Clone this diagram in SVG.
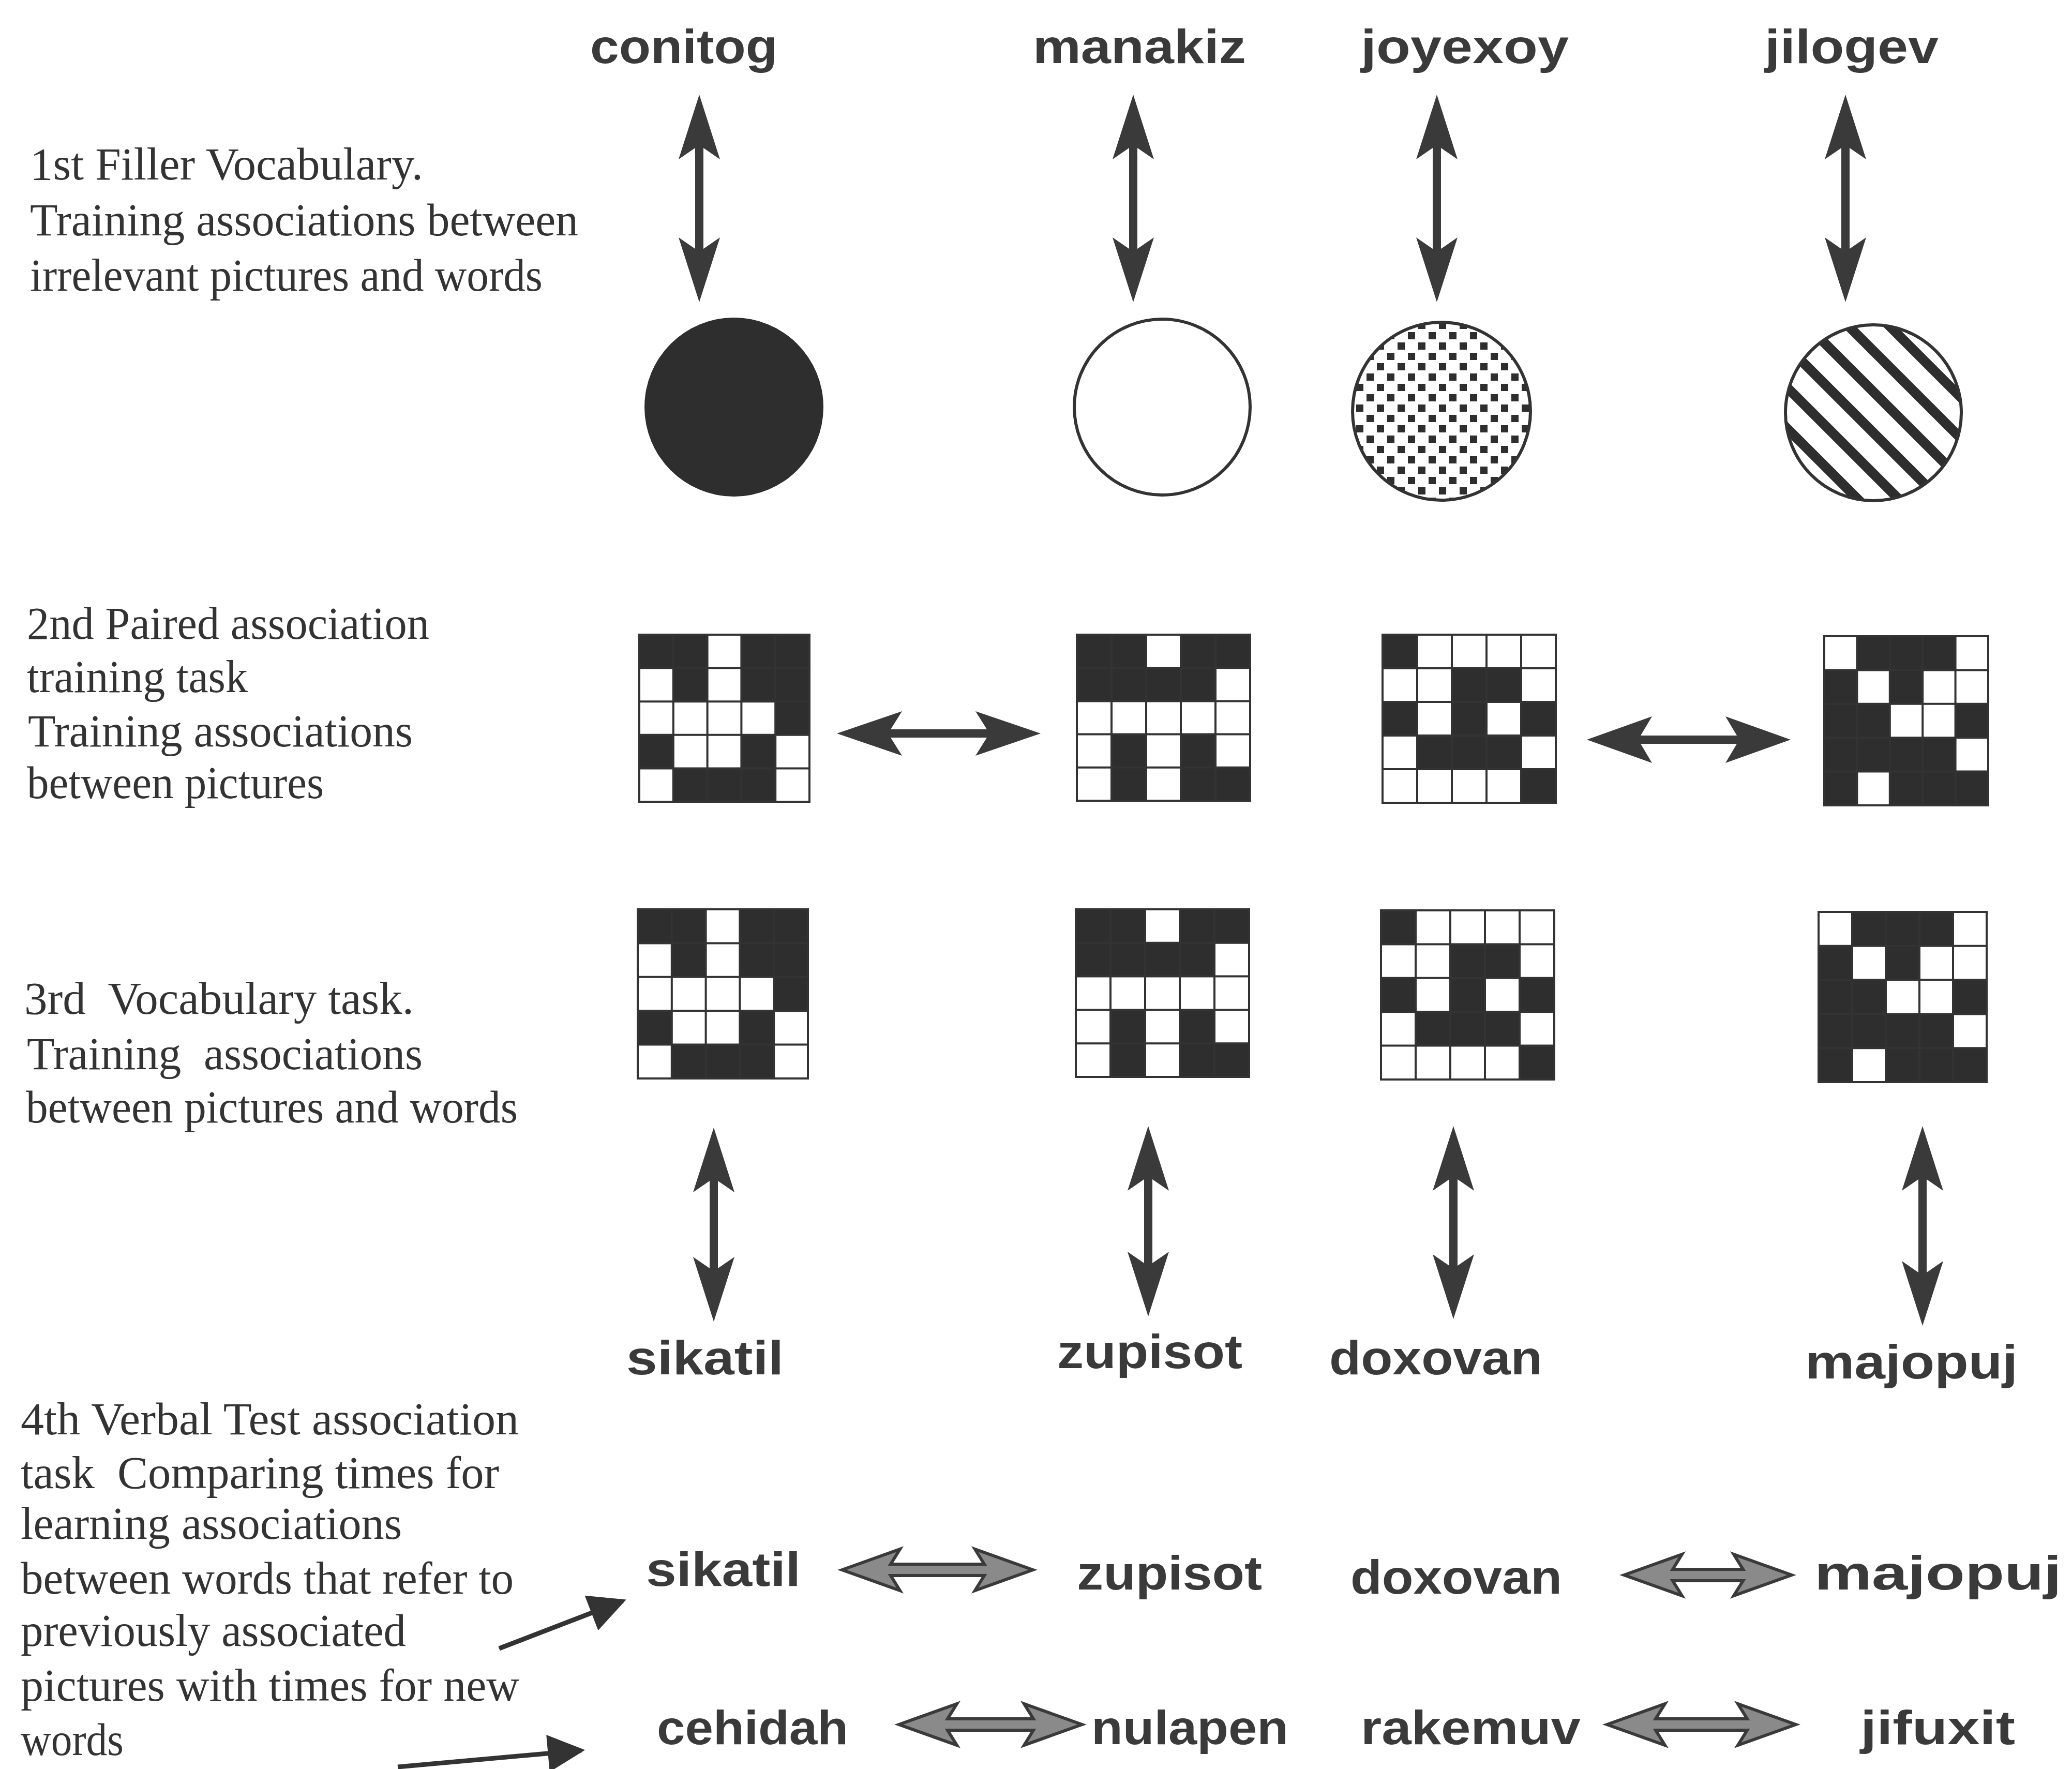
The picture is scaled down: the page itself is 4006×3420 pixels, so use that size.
<svg xmlns="http://www.w3.org/2000/svg" xmlns:xlink="http://www.w3.org/1999/xlink" width="4006" height="3420" viewBox="0 0 4006 3420">
<style>
.lbl{font-family:"Liberation Serif","Times New Roman",serif;font-size:88px;fill:#333}
.word{font-family:"Liberation Sans",Arial,sans-serif;font-weight:bold;font-size:92px;fill:#3a3a3a}
.arr{fill:#3a3a3a;stroke:none}
.arr2{fill:#8a8a8a;stroke:#3a3a3a;stroke-width:6;stroke-linejoin:miter}
.cell{fill:#2e2e2e}
.gl{stroke:#333;stroke-width:4;fill:none;vector-effect:non-scaling-stroke}
.ptr{stroke:#333;stroke-width:9;fill:none}
</style>
<defs>
<marker id="tri" viewBox="0 0 10 10" refX="9" refY="5" markerWidth="10" markerHeight="8" markerUnits="strokeWidth" orient="auto">
<path d="M0,0 L10,5 L0,10 Z" fill="#333"/>
</marker>
<pattern id="dots" width="40" height="40" patternUnits="userSpaceOnUse">
<rect x="2" y="2" width="14" height="14" fill="#2e2e2e"/>
<rect x="22" y="22" width="14" height="14" fill="#2e2e2e"/>
</pattern>
<pattern id="stripes" width="56" height="56" patternUnits="userSpaceOnUse" patternTransform="rotate(-45)">
<rect x="0" y="0" width="19" height="56" fill="#2e2e2e"/>
</pattern>
<g id="gridlines">
<rect x="0" y="0" width="5" height="5" class="gl"/>
<path class="gl" d="M1,0V5M2,0V5M3,0V5M4,0V5M0,1H5M0,2H5M0,3H5M0,4H5"/>
</g>
<g id="patA">
<path class="cell" d="M0,0h2v1h-2z M3,0h2v2h-2z M1,1h1v1h-1z M4,2h1v1h-1z M0,3h1v1h-1z M3,3h1v1h-1z M1,4h3v1h-3z"/>
<use xlink:href="#gridlines"/>
</g>
<g id="patB">
<path class="cell" d="M0,0h2v2h-2z M3,0h2v1h-2z M2,1h2v1h-2z M1,3h1v2h-1z M3,3h1v2h-1z M4,4h1v1h-1z"/>
<use xlink:href="#gridlines"/>
</g>
<g id="patC">
<path class="cell" d="M0,0h1v1h-1z M2,1h2v1h-2z M0,2h1v1h-1z M2,2h1v1h-1z M4,2h1v1h-1z M1,3h3v1h-3z M4,4h1v1h-1z"/>
<use xlink:href="#gridlines"/>
</g>
<g id="patD">
<path class="cell" d="M1,0h3v1h-3z M0,1h1v4h-1z M2,1h1v1h-1z M1,2h1v2h-1z M4,2h1v1h-1z M2,3h2v1h-2z M2,4h3v1h-3z"/>
<use xlink:href="#gridlines"/>
</g>
</defs>
<rect width="4006" height="3420" fill="#ffffff"/>

<g id="labels">
<g id="label-1">
<text class="lbl" x="58" y="347" textLength="760" lengthAdjust="spacingAndGlyphs">1st Filler Vocabulary.</text>
<text class="lbl" x="58" y="455" textLength="1060" lengthAdjust="spacingAndGlyphs">Training associations between</text>
<text class="lbl" x="58" y="562" textLength="991" lengthAdjust="spacingAndGlyphs">irrelevant pictures and words</text>
</g>
<g id="label-2">
<text class="lbl" x="52" y="1235" textLength="778" lengthAdjust="spacingAndGlyphs">2nd Paired association</text>
<text class="lbl" x="52" y="1338" textLength="427" lengthAdjust="spacingAndGlyphs">training task</text>
<text class="lbl" x="54" y="1443" textLength="744" lengthAdjust="spacingAndGlyphs">Training associations</text>
<text class="lbl" x="52" y="1543" textLength="574" lengthAdjust="spacingAndGlyphs">between pictures</text>
</g>
<g id="label-3">
<text class="lbl" x="47" y="1960" textLength="753" lengthAdjust="spacingAndGlyphs" xml:space="preserve">3rd  Vocabulary task.</text>
<text class="lbl" x="52" y="2067" textLength="765" lengthAdjust="spacingAndGlyphs" xml:space="preserve">Training  associations</text>
<text class="lbl" x="50" y="2170" textLength="951" lengthAdjust="spacingAndGlyphs">between pictures and words</text>
</g>
<g id="label-4">
<text class="lbl" x="40" y="2773" textLength="963" lengthAdjust="spacingAndGlyphs">4th Verbal Test association</text>
<text class="lbl" x="40" y="2877" textLength="925" lengthAdjust="spacingAndGlyphs" xml:space="preserve">task  Comparing times for</text>
<text class="lbl" x="40" y="2975" textLength="737" lengthAdjust="spacingAndGlyphs">learning associations</text>
<text class="lbl" x="40" y="3081" textLength="953" lengthAdjust="spacingAndGlyphs">between words that refer to</text>
<text class="lbl" x="40" y="3182" textLength="745" lengthAdjust="spacingAndGlyphs">previously associated</text>
<text class="lbl" x="40" y="3288" textLength="964" lengthAdjust="spacingAndGlyphs">pictures with times for new</text>
<text class="lbl" x="40" y="3393" textLength="199" lengthAdjust="spacingAndGlyphs">words</text>
</g>
</g>

<g id="words-top">
<text id="w-conitog" class="word" x="1141" y="122" textLength="362" lengthAdjust="spacingAndGlyphs">conitog</text>
<text id="w-manakiz" class="word" x="1997" y="122" textLength="412" lengthAdjust="spacingAndGlyphs">manakiz</text>
<text id="w-joyexoy" class="word" x="2631" y="122" textLength="402" lengthAdjust="spacingAndGlyphs">joyexoy</text>
<text id="w-jilogev" class="word" x="3412" y="122" textLength="336" lengthAdjust="spacingAndGlyphs">jilogev</text>
</g>

<g id="circles">
<g id="c-black"><circle cx="1419" cy="787" r="173" fill="#2e2e2e"/></g>
<g id="c-white"><circle cx="2247" cy="787" r="170" fill="#fff" stroke="#333" stroke-width="6"/></g>
<g id="c-dots"><circle cx="2787" cy="795" r="172" fill="url(#dots)" stroke="#333" stroke-width="6"/></g>
<g id="c-stripes"><circle cx="3622" cy="798" r="170" fill="url(#stripes)" stroke="#333" stroke-width="6"/></g>
</g>

<g id="grids-row2">
<g id="g2-sikatil"><use xlink:href="#patA" transform="translate(1236,1227) scale(65.8,64.6)"/></g>
<g id="g2-zupisot"><use xlink:href="#patB" transform="translate(2082,1227) scale(67,64.2)"/></g>
<g id="g2-doxovan"><use xlink:href="#patC" transform="translate(2673,1227) scale(67,65)"/></g>
<g id="g2-majopuj"><use xlink:href="#patD" transform="translate(3527,1230) scale(63.4,65.4)"/></g>
</g>

<g id="grids-row3">
<g id="g3-sikatil"><use xlink:href="#patA" transform="translate(1233,1758) scale(65.8,65.4)"/></g>
<g id="g3-zupisot"><use xlink:href="#patB" transform="translate(2080,1758) scale(67,64.8)"/></g>
<g id="g3-doxovan"><use xlink:href="#patC" transform="translate(2670,1760) scale(67,65.4)"/></g>
<g id="g3-majopuj"><use xlink:href="#patD" transform="translate(3516,1763) scale(65,65.8)"/></g>
</g>

<g id="words-row3">
<text id="w3-sikatil" class="word" x="1211" y="2657" textLength="304" lengthAdjust="spacingAndGlyphs">sikatil</text>
<text id="w3-zupisot" class="word" x="2044" y="2645" textLength="358" lengthAdjust="spacingAndGlyphs">zupisot</text>
<text id="w3-doxovan" class="word" x="2570" y="2657" textLength="412" lengthAdjust="spacingAndGlyphs">doxovan</text>
<text id="w3-majopuj" class="word" x="3490" y="2665" textLength="411" lengthAdjust="spacingAndGlyphs">majopuj</text>
</g>

<g id="words-row4">
<text id="w4-sikatil" class="word" x="1249" y="3066" textLength="299" lengthAdjust="spacingAndGlyphs">sikatil</text>
<text id="w4-zupisot" class="word" x="2082" y="3073" textLength="358" lengthAdjust="spacingAndGlyphs">zupisot</text>
<text id="w4-doxovan" class="word" x="2611" y="3081" textLength="409" lengthAdjust="spacingAndGlyphs">doxovan</text>
<text id="w4-majopuj" class="word" x="3508" y="3073" textLength="478" lengthAdjust="spacingAndGlyphs">majopuj</text>
<text id="w4-cehidah" class="word" x="1270" y="3372" textLength="370" lengthAdjust="spacingAndGlyphs">cehidah</text>
<text id="w4-nulapen" class="word" x="2110" y="3372" textLength="381" lengthAdjust="spacingAndGlyphs">nulapen</text>
<text id="w4-rakemuv" class="word" x="2631" y="3372" textLength="425" lengthAdjust="spacingAndGlyphs">rakemuv</text>
<text id="w4-jifuxit" class="word" x="3597" y="3372" textLength="299" lengthAdjust="spacingAndGlyphs">jifuxit</text>
</g>

<g id="connectors">
<path class="arr" d="M1352,183 L1392,308 L1360,286 L1360,481 L1392,459 L1352,584 L1312,459 L1344,481 L1344,286 L1312,308 Z"/>
<path class="arr" d="M2191,183 L2231,308 L2199,286 L2199,481 L2231,459 L2191,584 L2151,459 L2183,481 L2183,286 L2151,308 Z"/>
<path class="arr" d="M2778,183 L2818,308 L2786,286 L2786,481 L2818,459 L2778,584 L2738,459 L2770,481 L2770,286 L2738,308 Z"/>
<path class="arr" d="M3568,183 L3608,308 L3576,286 L3576,481 L3608,459 L3568,584 L3528,459 L3560,481 L3560,286 L3528,308 Z"/>
<path class="arr" d="M1618,1418 L1744,1375 L1722,1410 L1908,1410 L1886,1375 L2012,1418 L1886,1461 L1908,1426 L1722,1426 L1744,1461 Z"/>
<path class="arr" d="M3068,1430 L3194,1385 L3172,1422 L3358,1422 L3336,1385 L3462,1430 L3336,1475 L3358,1438 L3172,1438 L3194,1475 Z"/>
<path class="arr" d="M1380,2180 L1420,2305 L1388,2283 L1388,2452 L1420,2430 L1380,2555 L1340,2430 L1372,2452 L1372,2283 L1340,2305 Z"/>
<path class="arr" d="M2220,2177 L2260,2302 L2228,2280 L2228,2442 L2260,2420 L2220,2545 L2180,2420 L2212,2442 L2212,2280 L2180,2302 Z"/>
<path class="arr" d="M2810,2177 L2850,2302 L2818,2280 L2818,2447 L2850,2425 L2810,2550 L2770,2425 L2802,2447 L2802,2280 L2770,2302 Z"/>
<path class="arr" d="M3717,2177 L3757,2302 L3725,2280 L3725,2460 L3757,2438 L3717,2563 L3677,2438 L3709,2460 L3709,2280 L3677,2302 Z"/>
<path class="arr2" d="M1628,3035 L1740,2995 L1722,3024 L1903,3024 L1885,2995 L1997,3035 L1885,3075 L1903,3046 L1722,3046 L1740,3075 Z"/>
<path class="arr2" d="M3140,3045 L3252,3005 L3234,3034 L3370,3034 L3352,3005 L3464,3045 L3352,3085 L3370,3056 L3234,3056 L3252,3085 Z"/>
<path class="arr2" d="M1738,3334 L1850,3294 L1832,3323 L1998,3323 L1980,3294 L2092,3334 L1980,3374 L1998,3345 L1832,3345 L1850,3374 Z"/>
<path class="arr2" d="M3107,3334 L3219,3294 L3201,3323 L3378,3323 L3360,3294 L3472,3334 L3360,3374 L3378,3345 L3201,3345 L3219,3374 Z"/>
<line class="ptr" x1="965" y1="3187" x2="1204" y2="3095" marker-end="url(#tri)"/>
<line class="ptr" x1="769" y1="3416" x2="1124" y2="3384" marker-end="url(#tri)"/>
</g>
</svg>
